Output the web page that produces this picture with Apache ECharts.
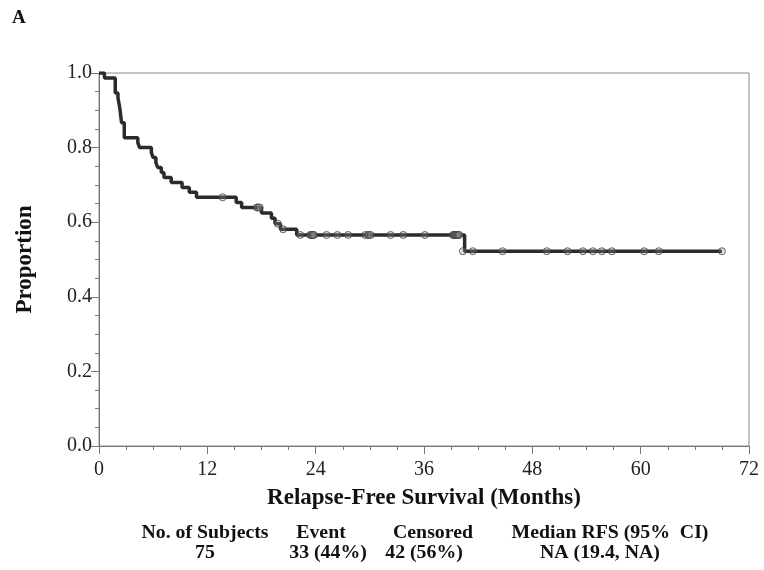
<!DOCTYPE html>
<html>
<head>
<meta charset="utf-8">
<script src="https://cdn.jsdelivr.net/npm/echarts@6/dist/echarts.min.js"></script>
<style>html,body{margin:0;padding:0;background:#fff;}#c{width:764px;height:570px;}</style>
</head>
<body>
<div id="c"></div>
<script>
// Kaplan-Meier step points: time (months) at which survival changes, and new survival
const stepTimes = [0, 0.6, 1.8, 2.1, 2.3, 2.5, 2.8, 4.3, 4.5, 5.8, 6.0, 6.3, 6.5, 6.9, 7.2, 8.0, 9.2, 10.0, 10.8, 15.2, 15.8, 18.0, 19.1, 19.5, 20.1, 21.9, 40.5, 69.0];
const stepSurv  = [1.0, 0.9867, 0.9467, 0.9333, 0.9067, 0.8667, 0.8267, 0.8133, 0.8000, 0.7867, 0.7733, 0.7600, 0.7467, 0.7333, 0.7200, 0.7067, 0.6933, 0.6800, 0.6667, 0.6531, 0.6395, 0.6249, 0.6104, 0.5959, 0.5810, 0.5657, 0.5222, 0.5222];
// Censored observations
const censorTimes = [13.7, 17.5, 17.6, 17.8, 19.8, 20.4, 22.3, 23.4, 23.5, 23.6, 23.7, 23.8, 25.2, 26.4, 27.6, 29.5, 29.8, 29.9, 30.1, 32.3, 33.7, 36.1, 39.2, 39.3, 39.4, 39.5, 39.6, 39.7, 39.8, 39.9, 40.3, 41.4, 44.7, 49.6, 51.9, 53.6, 54.7, 55.7, 56.8, 60.4, 62.0, 69.0];
const censorSurv  = [0.6667, 0.6395, 0.6395, 0.6395, 0.5959, 0.5810, 0.5657, 0.5657, 0.5657, 0.5657, 0.5657, 0.5657, 0.5657, 0.5657, 0.5657, 0.5657, 0.5657, 0.5657, 0.5657, 0.5657, 0.5657, 0.5657, 0.5657, 0.5657, 0.5657, 0.5657, 0.5657, 0.5657, 0.5657, 0.5657, 0.5222, 0.5222, 0.5222, 0.5222, 0.5222, 0.5222, 0.5222, 0.5222, 0.5222, 0.5222, 0.5222, 0.5222];
const xTicks = [0, 12, 24, 36, 48, 60, 72];
const yTicks = [0, 0.2, 0.4, 0.6, 0.8, 1.0];
const tableHeaders = ['No. of Subjects', 'Event', 'Censored', 'Median RFS (95%  CI)'];
const tableValues  = ['75', '33 (44%)', '42 (56%)', 'NA (19.4, NA)'];

const serif = '"Liberation Serif", "DejaVu Serif", serif';
const chart = echarts.init(document.getElementById('c'));
const headX = [205, 321, 433, 610];
const valX  = [205, 328, 424, 600];
const graphics = [{
  type: 'text', left: 12, top: 9,
  style: { text: 'A', font: 'bold 19px ' + serif, fill: '#111' }
}];
tableHeaders.forEach((t, i) => graphics.push({
  type: 'text', x: headX[i], y: 533, scaleX: 1.1,
  style: { text: t, font: 'bold 18px ' + serif, fill: '#111', textAlign: 'center', textVerticalAlign: 'middle' }
}));
tableValues.forEach((t, i) => graphics.push({
  type: 'text', x: valX[i], y: 553, scaleX: 1.1,
  style: { text: t, font: 'bold 18px ' + serif, fill: '#111', textAlign: 'center', textVerticalAlign: 'middle' }
}));

chart.setOption({
  animation: false,
  backgroundColor: '#fff',
  grid: { left: 99, right: 15, top: 73, bottom: 124, show: true, borderColor: '#888', borderWidth: 1, backgroundColor: 'transparent' },
  xAxis: {
    type: 'value', min: xTicks[0], max: xTicks[xTicks.length - 1], interval: 12,
    name: 'Relapse-Free Survival (Months)', nameLocation: 'middle', nameGap: 41,
    nameTextStyle: { fontFamily: serif, fontWeight: 'bold', fontSize: 23, color: '#111' },
    axisLine: { show: true, lineStyle: { color: '#777', width: 1 } },
    axisTick: { show: true, length: 8, lineStyle: { color: '#777' } },
    minorTick: { show: true, splitNumber: 4, length: 4, lineStyle: { color: '#777' } },
    splitLine: { show: false },
    axisLabel: { fontFamily: serif, fontSize: 20, color: '#222', margin: 14 }
  },
  yAxis: {
    type: 'value', min: yTicks[0], max: yTicks[yTicks.length - 1], interval: 0.2,
    name: 'Proportion', nameLocation: 'middle', nameGap: 62,
    nameTextStyle: { fontFamily: serif, fontWeight: 'bold', fontSize: 23, color: '#111' },
    axisLine: { show: true, lineStyle: { color: '#777', width: 1 } },
    axisTick: { show: true, length: 8, lineStyle: { color: '#777' } },
    minorTick: { show: true, splitNumber: 4, length: 4, lineStyle: { color: '#777' } },
    splitLine: { show: false },
    axisLabel: { fontFamily: serif, fontSize: 20, color: '#222', margin: 7, formatter: v => v.toFixed(1) }
  },
  series: [{
    type: 'line', step: 'end', symbol: 'none',
    data: stepTimes.map((t, i) => [t, stepSurv[i]]),
    lineStyle: { color: '#2b2b2b', width: 3.5 }, z: 2
  }, {
    type: 'scatter', symbol: 'circle', symbolSize: 7,
    data: censorTimes.map((t, i) => [t, censorSurv[i]]),
    itemStyle: { color: 'rgba(150,150,150,0.35)', borderColor: '#444', borderWidth: 1 }, z: 3
  }],
  graphic: graphics
});
</script>
</body>
</html>
